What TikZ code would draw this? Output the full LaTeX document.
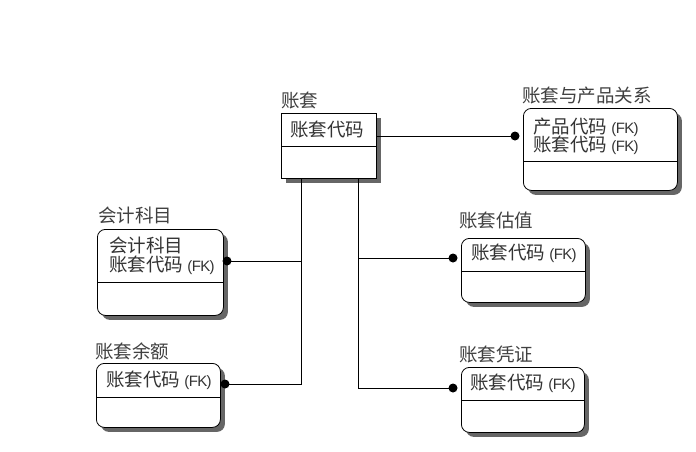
\documentclass[tikz,border=0pt]{standalone}
\usepackage{fontspec}
\newfontfamily\cjk{Noto Sans CJK SC}
\newfontfamily\fkfont{Liberation Sans}
\usetikzlibrary{shadows}
\begin{document}
\begin{tikzpicture}[x=1pt,y=-1pt,
  ent/.style={draw=black, line width=0.8pt, fill=white, anchor=north west, inner sep=0pt,
    drop shadow={shadow xshift=4.5pt, shadow yshift=-4.5pt, fill=black!60, opacity=1}},
  rent/.style={ent, rounded corners=8pt},
  lbl/.style={anchor=west, inner sep=0pt, font=\cjk\fontsize{18.5}{18}\selectfont, text=black!75},
  fld/.style={anchor=west, inner sep=0pt, font=\cjk\fontsize{18.5}{18}\selectfont, text=black!80},
  conn/.style={draw=black, line width=0.7pt},
  dot/.style={circle, fill=black, inner sep=0pt, minimum size=9pt}]
\fill[white] (0,0) rectangle (696,451);
\useasboundingbox (0,0) rectangle (696,451);
\newcommand{\fk}{{\fkfont\fontsize{15}{15}\selectfont\addfontfeature{LetterSpace=-4}(FK)}}
% boxes
\node[ent, minimum width=95pt, minimum height=65pt] (zt) at (281,113) {};
\node[rent, minimum width=154pt, minimum height=82pt] (cp) at (523,108) {};
\node[rent, minimum width=126pt, minimum height=86pt] (km) at (97,229) {};
\node[rent, minimum width=124pt, minimum height=64pt] (gz) at (461,238) {};
\node[rent, minimum width=124pt, minimum height=64pt] (ye) at (96,363) {};
\node[rent, minimum width=123pt, minimum height=65pt] (pz) at (461,367) {};
% dividers
\draw[line width=0.7pt] (zt.west |- 0,146) -- (zt.east |- 0,146);
\draw[line width=0.7pt] (cp.west |- 0,161) -- (cp.east |- 0,161);
\draw[line width=0.7pt] (km.west |- 0,282) -- (km.east |- 0,282);
\draw[line width=0.7pt] (gz.west |- 0,271) -- (gz.east |- 0,271);
\draw[line width=0.7pt] (ye.west |- 0,397) -- (ye.east |- 0,397);
\draw[line width=0.7pt] (pz.west |- 0,400) -- (pz.east |- 0,400);
% titles
\node[lbl] (tzt) at (281,101) {账套};
\node[lbl] (tcp) at (522,96) {账套与产品关系};
\node[lbl] (tkm) at (98,215) {会计科目};
\node[lbl] (tgz) at (459,221) {账套估值};
\node[lbl] (tye) at (95,351) {账套余额};
\node[lbl] (tpz) at (459,354) {账套凭证};
% fields
\node[fld] (f1) at (290,130) {账套代码};
\node[fld] (f2) at (533,127) {产品代码 \fk};
\node[fld] (f3) at (533,145) {账套代码 \fk};
\node[fld] (f4) at (109,245) {会计科目};
\node[fld] (f5) at (109,265) {账套代码 \fk};
\node[fld] (f6) at (471,253) {账套代码 \fk};
\node[fld] (f7) at (106,380) {账套代码 \fk};
\node[fld] (f8) at (470,383) {账套代码 \fk};
% connector end points
\node[dot] (d1) at (515,136) {};
\node[dot] (d2) at (227,261) {};
\node[dot] (d3) at (453,258) {};
\node[dot] (d4) at (225,384) {};
\node[dot] (d5) at (453,388) {};
\coordinate (vL) at (301,178);
\coordinate (vR) at (358,178);
\draw[conn] (zt.east |- d1) -- (d1.center);
\draw[conn] (vL) -- (vL |- d4) -- (d4.center);
\draw[conn] (vL |- d2) -- (d2.center);
\draw[conn] (vR) -- (vR |- d5) -- (d5.center);
\draw[conn] (vR |- d3) -- (d3.center);
\end{tikzpicture}
\end{document}
